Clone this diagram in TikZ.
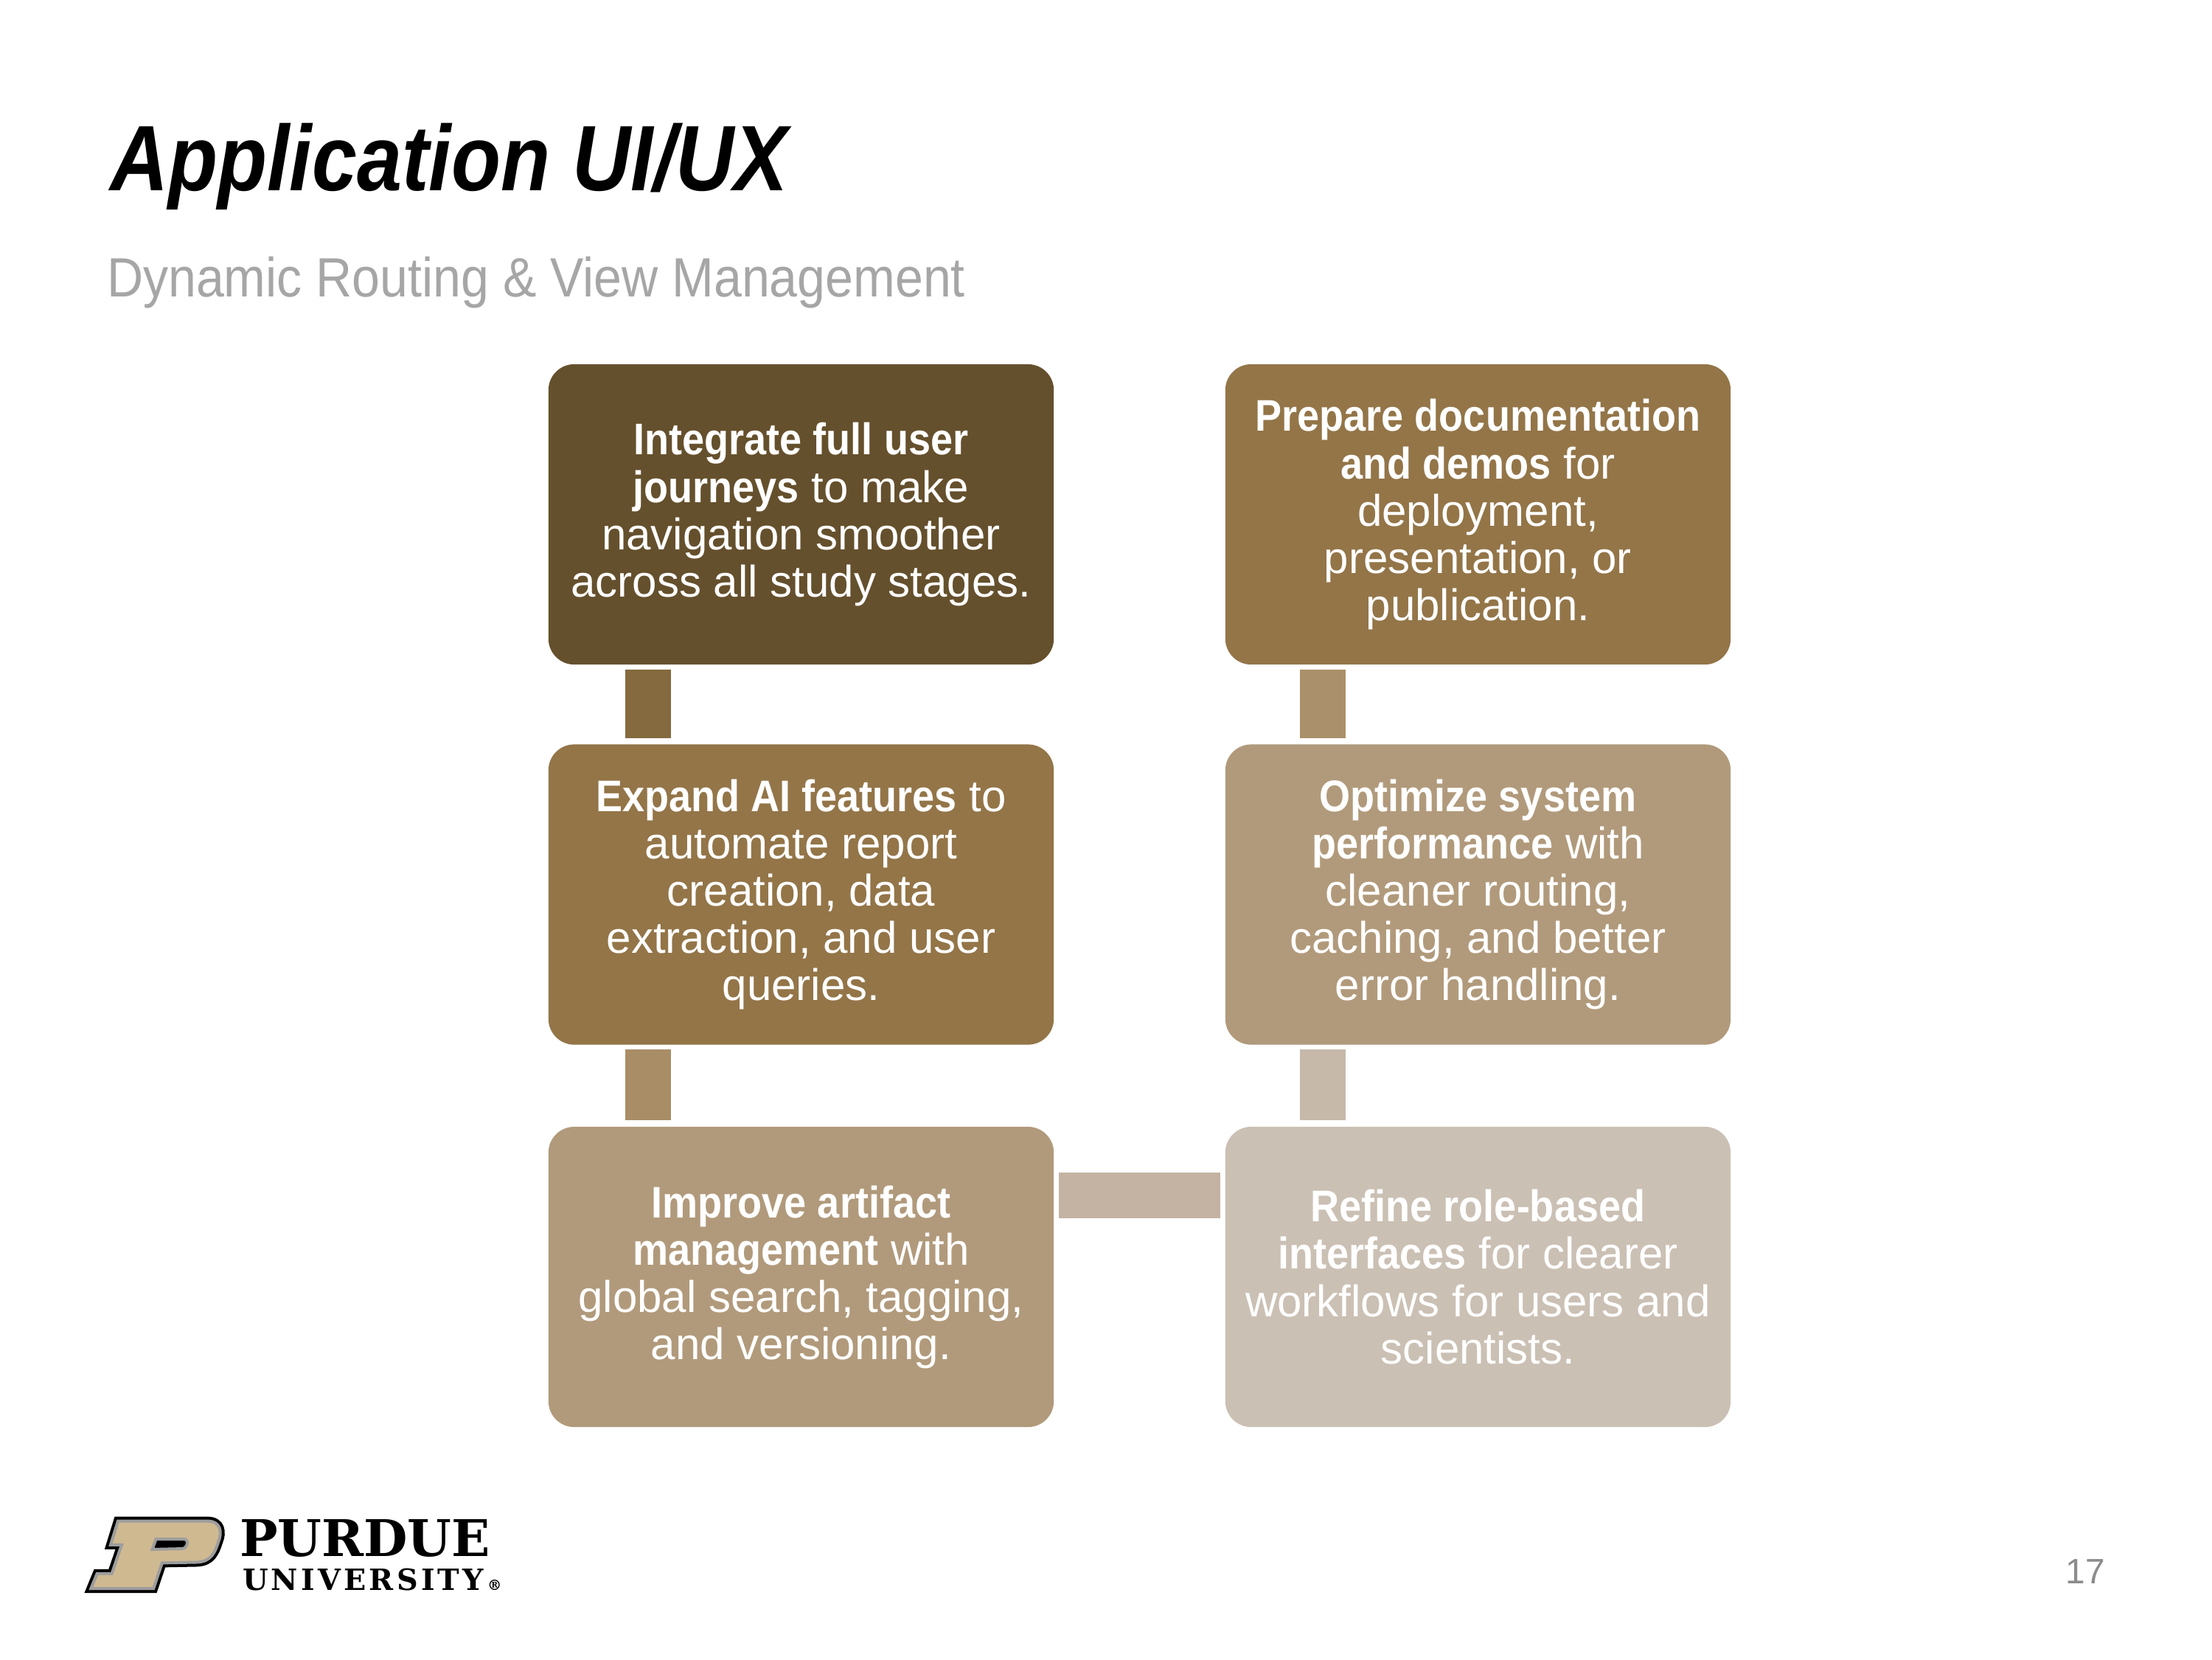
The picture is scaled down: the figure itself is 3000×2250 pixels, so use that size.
\documentclass[tikz,border=0pt]{standalone}
\usepackage{fontspec}
\setmainfont{Liberation Sans}
\newfontfamily\bodyfont{Liberation Sans}
\newfontfamily\boldfam{Liberation Sans}[FakeStretch=0.9]
\newfontfamily\titlefont{Liberation Sans}[FakeStretch=0.87]
\newfontfamily\subfont{Liberation Sans}[FakeStretch=0.907]
\newfontfamily\logofont{DejaVu Serif}
\usetikzlibrary{calc}
\newcommand\hb[1]{{\boldfam\bfseries #1}}
\definecolor{cA}{HTML}{65502D}
\definecolor{cB}{HTML}{937548}
\definecolor{cC}{HTML}{B19A7B}
\definecolor{cD}{HTML}{CBC0B4}
\definecolor{kAB}{HTML}{846A3E}
\definecolor{kBC}{HTML}{A98D66}
\definecolor{kCD}{HTML}{C4B3A2}
\definecolor{kDC}{HTML}{C6B9AA}
\definecolor{kCB}{HTML}{AB916B}
\definecolor{subgray}{HTML}{A6A6A6}
\definecolor{numgray}{HTML}{8C8C8C}
\definecolor{pgold}{HTML}{CFB991}
\definecolor{pgray}{HTML}{9D9D9D}
\begin{document}
\begin{tikzpicture}[x=0.01cm,y=-0.01cm,
  box/.style={rounded corners=0.35cm, minimum width=6.85cm, minimum height=4.07cm,
    inner sep=0pt, text=white, align=center,
    font=\bodyfont\fontsize{17.07}{18.21}\selectfont},
  bar/.style={line width=0.62cm},
  lbl/.style={inner sep=0pt, outer sep=0pt}]
\useasboundingbox (0,0) rectangle (3000,2250);
\fill[white] (0,0) rectangle (3000,2250);

% titles
\node[lbl, anchor=base west] (title) at (149,258)
  {\titlefont\bfseries\itshape\fontsize{35.85}{36}\selectfont Application UI/UX};
\node[lbl, anchor=base west, text=subgray] (subtitle) at (145,402)
  {\subfont\fontsize{21.34}{22}\selectfont Dynamic Routing \& View Management};

% boxes
\node[box, fill=cA] (b1) at (1086.5,697.5)
  {\hb{Integrate full user}\\ \hb{journeys} to make\\ navigation smoother\\ across all study stages.};
\node[box, fill=cB] (b2) at (2004.5,697.5)
  {\hb{Prepare documentation}\\ \hb{and demos} for\\ deployment,\\ presentation, or\\ publication.};
\node[box, fill=cB] (b3) at (1086.5,1213)
  {\hb{Expand AI features} to\\ automate report\\ creation, data\\ extraction, and user\\ queries.};
\node[box, fill=cC] (b4) at (2004.5,1213)
  {\hb{Optimize system}\\ \hb{performance} with\\ cleaner routing,\\ caching, and better\\ error handling.};
\node[box, fill=cC] (b5) at (1086.5,1731.5)
  {\hb{Improve artifact}\\ \hb{management} with\\ global search, tagging,\\ and versioning.};
\node[box, fill=cD] (b6) at (2004.5,1731.5)
  {\hb{Refine role-based}\\ \hb{interfaces} for clearer\\ workflows for users and\\ scientists.};

% connectors
\draw[bar, kAB] ($(b1.south west)+(136,6)$) -- ($(b3.north west)+(136,-8)$);
\draw[bar, kBC] ($(b3.south west)+(136,6)$) -- ($(b5.north west)+(136,-8)$);
\draw[bar, kCD] ($(b5.north east)+(6,94)$) -- ($(b6.north west)+(-6,94)$);
\draw[bar, kDC] ($(b6.north west)+(133,-8)$) -- ($(b4.south west)+(133,6)$);
\draw[bar, kCB] ($(b4.north west)+(133,-8)$) -- ($(b2.south west)+(133,6)$);

% page number
\node[lbl, anchor=base east, text=numgray] (pnum) at (2855,2147)
  {\bodyfont\fontsize{13.6}{14}\selectfont 17};

% Purdue logo
\begin{scope}[shift={(1.0cm,-20.43cm)}, x=0.003333cm, y=-0.003067cm, line join=miter]
  \draw[black, line width=0.12cm] (180,60) -- (545,60) .. controls (600,60) and (605,110) .. (590,150)
    .. controls (575,200) and (560,240) .. (500,242) -- (360,245) -- (325,358) -- (70,358)
    -- (95,292) -- (155,292) -- (195,165) -- (150,165) -- cycle;
  \draw[pgray, line width=0.04cm, fill=pgold] (180,60) -- (545,60) .. controls (600,60) and (605,110) .. (590,150)
    .. controls (575,200) and (560,240) .. (500,242) -- (360,245) -- (325,358) -- (70,358)
    -- (95,292) -- (155,292) -- (195,165) -- (150,165) -- cycle;
  \filldraw[fill=black, draw=pgray, line width=0.04cm] (335,140) -- (450,140)
    .. controls (470,140) and (465,182) .. (440,182) -- (320,185) -- cycle;
\end{scope}
\node[lbl, anchor=base west] (purdue) at (325,2110)
  {\logofont\bfseries\fontsize{19.5}{20}\selectfont PURDUE};
\node[lbl, anchor=base west] (univ) at (329,2156)
  {\logofont\bfseries\fontsize{11.3}{12}\selectfont
   \hbox to 3.27cm{U\hfil N\hfil I\hfil V\hfil E\hfil R\hfil S\hfil I\hfil T\hfil Y}%
   \kern 0.05cm{\fontsize{5.5}{6}\selectfont\raisebox{0pt}{®}}};
\end{tikzpicture}
\end{document}
